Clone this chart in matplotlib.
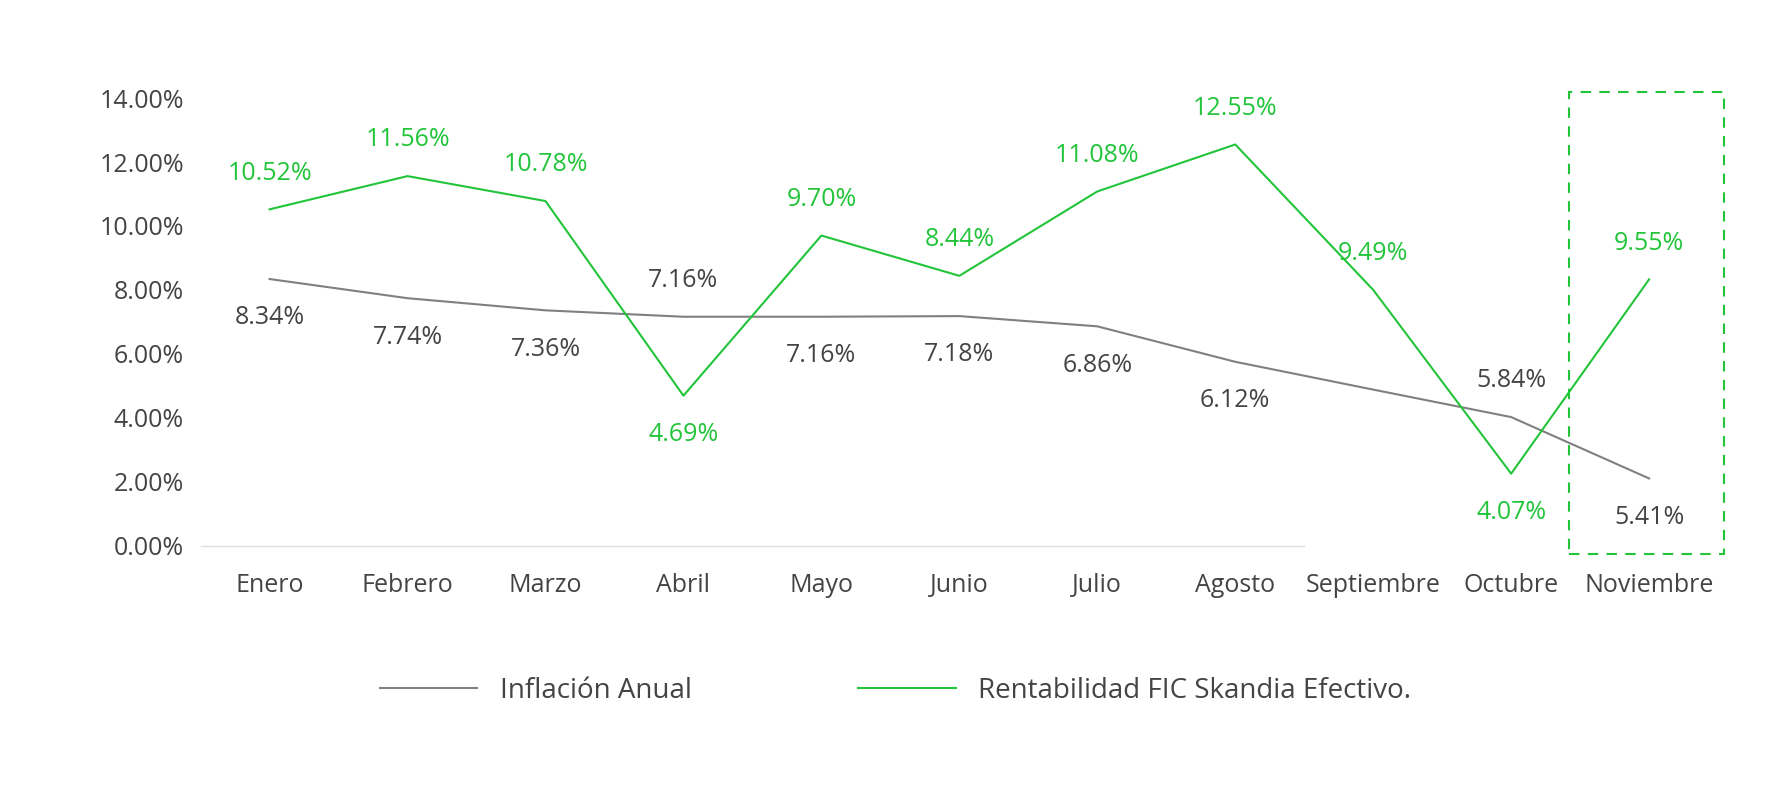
import matplotlib.pyplot as plt
from matplotlib.patches import Rectangle

months = ["Enero", "Febrero", "Marzo", "Abril", "Mayo", "Junio", "Julio",
          "Agosto", "Septiembre", "Octubre", "Noviembre"]
# values as drawn by the lines
inflacion = [8.34, 7.74, 7.36, 7.16, 7.16, 7.18, 6.86, 5.75, 4.88, 4.02, 2.10]
rentabilidad = [10.52, 11.56, 10.78, 4.69, 9.70, 8.44, 11.08, 12.55, 8.00, 2.25, 8.33]
# values as printed in the labels
inflacion_lbl = ["8.34%", "7.74%", "7.36%", "7.16%", "7.16%", "7.18%", "6.86%",
                 "6.12%", "", "5.84%", "5.41%"]
rentab_lbl = ["10.52%", "11.56%", "10.78%", "4.69%", "9.70%", "8.44%", "11.08%",
              "12.55%", "9.49%", "4.07%", "9.55%"]
gray_up = [False, False, False, True, False, False, False, False, False, True, False]
green_down = [False, False, False, True, False, False, False, False, False, True, False]

GRAY = "#808080"
GREEN = "#22c43a"
TXT = "#444444"
plt.rcParams["font.family"] = "Open Sans"

fig = plt.figure(figsize=(17.91, 7.85), dpi=100)
ax = fig.add_axes([0.112, 0.305, 0.855, 0.57])
x = list(range(len(months)))

ax.plot(x, inflacion, color=GRAY, lw=1.5, label="Inflación Anual")
ax.plot(x, rentabilidad, color=GREEN, lw=1.5, label="Rentabilidad FIC Skandia Efectivo.")

for i in x:
    dy = 26 if gray_up[i] else -28
    if inflacion_lbl[i]:
        ax.annotate(inflacion_lbl[i], (i, inflacion[i]), xytext=(0, dy),
                    textcoords="offset points", ha="center", va="center",
                    fontsize=18, color=TXT)
    dy = -28 if green_down[i] else 26
    ax.annotate(rentab_lbl[i], (i, rentabilidad[i]), xytext=(0, dy),
                textcoords="offset points", ha="center", va="center",
                fontsize=18, color=GREEN)

ax.set_xlim(-0.5, 10.6)
ax.set_ylim(0, 14)
yt = [0, 2, 4, 6, 8, 10, 12, 14]
ax.set_yticks(yt)
ax.set_yticklabels([f"{v:.2f}%" for v in yt], fontsize=18, color=TXT)
ax.set_xticks(x)
ax.set_xticklabels(months, fontsize=18, color=TXT)
ax.tick_params(axis="x", length=0, pad=20)
ax.tick_params(axis="y", length=0, pad=12)
for s in ax.spines.values():
    s.set_visible(False)
ax.plot([-0.5, 7.5], [0, 0], color="#dddddd", lw=1, clip_on=False)

ax.add_patch(Rectangle((9.42, -0.25), 1.12, 14.45, fill=False, ec=GREEN,
                       ls=(0, (5, 4)), lw=1.5, clip_on=False))

fig.legend(loc="lower center", bbox_to_anchor=(0.5, 0.07), ncol=2, frameon=False,
           fontsize=20, labelcolor=TXT, handlelength=3.5, columnspacing=6)

fig.savefig("out.png", dpi=100)
